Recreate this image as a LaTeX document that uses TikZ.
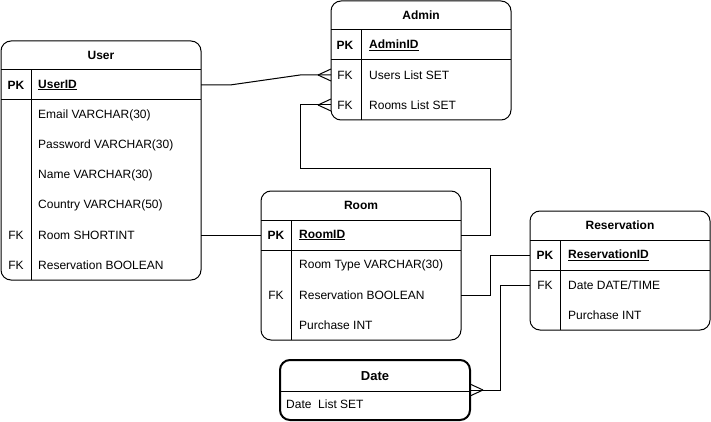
\documentclass[tikz,border=0pt]{standalone}
\usepackage{fontspec}
\setmainfont{Liberation Sans}
\begin{document}
\begin{tikzpicture}[x=1pt,y=-1pt,
  tbl/.style={draw, line width=1pt, rounded corners=10pt, fill=white, inner sep=0pt, outer sep=0pt},
  sepline/.style={line width=1pt},
  ttl/.style={font=\fontsize{12}{14}\selectfont\bfseries, inner sep=0pt},
  fld/.style={anchor=west, font=\fontsize{12}{14}\selectfont, inner sep=0pt},
  pkey/.style={font=\fontsize{12}{14}\selectfont\bfseries, inner sep=0pt},
  fkey/.style={font=\fontsize{12}{14}\selectfont, inner sep=0pt},
  conn/.style={line width=1pt},
]
\useasboundingbox (0,0) rectangle (711,422);

% ---------- User ----------
\node[tbl, minimum width=200, minimum height=239] (user) at (101,160.5) {};
\draw[sepline] (1,70) -- (201,70);
\draw[sepline] (1,100) -- (201,100);
\draw[sepline] (31,70) -- (31,280);
\node[ttl] (usert) at (101,55) {User};
\node[pkey] (upk) at (16,85) {PK};
\node[fld] (uid) at (38,85) {\underline{\textbf{UserID}}};
\node[fld] (uemail) at (38,115) {Email VARCHAR(30)};
\node[fld] (upass) at (38,145) {Password VARCHAR(30)};
\node[fld] (uname) at (38,175) {Name VARCHAR(30)};
\node[fld] (ucountry) at (38,205) {Country VARCHAR(50)};
\node[fkey] (ufk1) at (16,235) {FK};
\node[fld] (uroom) at (38,235) {Room SHORTINT};
\node[fkey] (ufk2) at (16,265) {FK};
\node[fld] (ures) at (38,265) {Reservation BOOLEAN};

% ---------- Admin ----------
\node[tbl, minimum width=180, minimum height=119] (admin) at (421,60.5) {};
\draw[sepline] (331,30) -- (511,30);
\draw[sepline] (331,60) -- (511,60);
\draw[sepline] (361,30) -- (361,120);
\node[ttl] (admint) at (421,15) {Admin};
\node[pkey] (apk) at (345,45) {PK};
\node[fld] (aid) at (369,45) {\underline{\textbf{AdminID}}};
\node[fkey] (afk1) at (345,75) {FK};
\node[fld] (ausers) at (369,75) {Users List SET};
\node[fkey] (afk2) at (345,105) {FK};
\node[fld] (arooms) at (369,105) {Rooms List SET};

% ---------- Room ----------
\node[tbl, minimum width=200, minimum height=149] (room) at (361,265.5) {};
\draw[sepline] (261,220) -- (461,220);
\draw[sepline] (261,250) -- (461,250);
\draw[sepline] (291,220) -- (291,340);
\node[ttl] (roomt) at (361,205) {Room};
\node[pkey] (rpk) at (276,235) {PK};
\node[fld] (rid) at (299,235) {\underline{\textbf{RoomID}}};
\node[fld] (rtype) at (299,265) {Room Type VARCHAR(30)};
\node[fkey] (rfk) at (276,295) {FK};
\node[fld] (rres) at (299,295) {Reservation BOOLEAN};
\node[fld] (rpur) at (299,325) {Purchase INT};

% ---------- Reservation ----------
\node[tbl, minimum width=180, minimum height=119] (resv) at (620,270.5) {};
\draw[sepline] (530,240) -- (710,240);
\draw[sepline] (530,270) -- (710,270);
\draw[sepline] (560,240) -- (560,330);
\node[ttl] (resvt) at (620,225) {Reservation};
\node[pkey] (vpk) at (545,255) {PK};
\node[fld] (vid) at (568,255) {\underline{\textbf{ReservationID}}};
\node[fkey] (vfk) at (545,285) {FK};
\node[fld] (vdate) at (568,285) {Date DATE/TIME};
\node[fld] (vpur) at (568,315) {Purchase INT};

% ---------- Date ----------
\node[tbl, line width=2pt, minimum width=190, minimum height=60] (date) at (375,390) {};
\draw[line width=1pt] (280,391) -- (470,391);
\node[ttl, font=\fontsize{13}{15}\selectfont\bfseries] (datet) at (375,376) {Date};
\node[fld] (dlist) at (286,404) {Date\ \ List SET};

% ---------- Connectors ----------
% User.UserID -> Admin.Users List (many)
\coordinate (c1a) at (user.east |- uid);
\coordinate (c1b) at (admin.west |- ausers);
\draw[conn] (c1a) -- ++(29,0) -- ([xshift=-31pt]c1b) -- (c1b);
\draw[conn] ([xshift=-13pt]c1b) -- ([yshift=6pt]c1b);
\draw[conn] ([xshift=-13pt]c1b) -- ([yshift=-6pt]c1b);

% Room.RoomID -> Admin.Rooms List (many)
\coordinate (c2a) at (room.east |- rid);
\coordinate (c2b) at (admin.west |- arooms);
\draw[conn] (c2a) -- (490,235) -- (490,168) -- (300,168) -- (300,105) -- (c2b);
\draw[conn] ([xshift=-13pt]c2b) -- ([yshift=6pt]c2b);
\draw[conn] ([xshift=-13pt]c2b) -- ([yshift=-6pt]c2b);

% User.Room -> Room.RoomID
\coordinate (c3a) at (user.east |- uroom);
\coordinate (c3b) at (room.west |- rid);
\draw[conn] (c3a) -- (c3b);

% Room.Reservation -> Reservation.ReservationID
\coordinate (c4a) at (room.east |- rres);
\coordinate (c4b) at (resv.west |- vid);
\draw[conn] (c4a) -- (490,295) -- (490,255) -- (c4b);

% Reservation.Date -> Date (many)
\coordinate (c5a) at (resv.west |- vdate);
\coordinate (c5b) at (470,390);
\draw[conn] (c5a) -- (500,285) -- (500,390) -- (c5b);
\draw[conn] ([xshift=13pt]c5b) -- ([yshift=6pt]c5b);
\draw[conn] ([xshift=13pt]c5b) -- ([yshift=-6pt]c5b);
\end{tikzpicture}
\end{document}
